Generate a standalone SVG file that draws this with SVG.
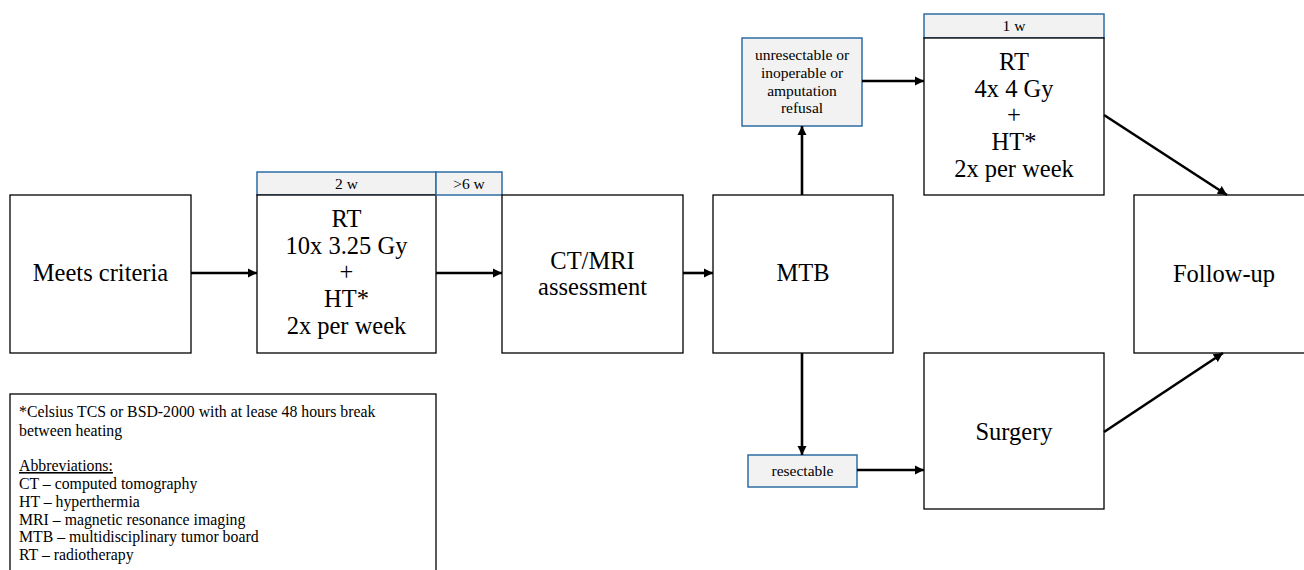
<svg xmlns="http://www.w3.org/2000/svg" width="1304" height="570" viewBox="0 0 1304 570">
<defs>
<style>
.box{fill:#ffffff;stroke:#000000;stroke-width:1.3}
.tag{fill:#f2f2f2;stroke:#2e6ca4;stroke-width:1.5}
.big{font-family:"Liberation Serif","DejaVu Serif",serif;font-size:24.5px;fill:#000;text-anchor:middle}
.sm{font-family:"Liberation Serif","DejaVu Serif",serif;font-size:15.5px;fill:#000;text-anchor:middle}
.leg{font-family:"Liberation Serif","DejaVu Serif",serif;font-size:15.8px;fill:#000}
.con{stroke:#000;stroke-width:2.6;fill:none;marker-end:url(#ah)}
</style>
<marker id="ah" viewBox="0 0 10 10" refX="10" refY="5" markerWidth="3.6" markerHeight="3.6" orient="auto" markerUnits="strokeWidth">
<path d="M0,0 L10,5 L0,10 z" fill="#000"/>
</marker>
</defs>
<rect width="1304" height="570" fill="#ffffff"/>

<g id="meets">
<rect class="box" x="10" y="195" width="181" height="158"/>
<text class="big" x="100.5" y="281">Meets criteria</text>
</g>

<g id="rt1">
<rect class="tag" x="257" y="172" width="179" height="23"/>
<text class="sm" x="346.5" y="189">2 w</text>
<rect class="box" x="257" y="195" width="179" height="158"/>
<text class="big" x="346.5" y="227">RT</text>
<text class="big" x="346.5" y="254">10x 3.25 Gy</text>
<text class="big" x="346.5" y="280">+</text>
<text class="big" x="346.5" y="307">HT*</text>
<text class="big" x="346.5" y="334">2x per week</text>
</g>

<g id="gap">
<rect class="tag" x="436" y="172" width="66" height="23"/>
<text class="sm" x="469" y="189">&gt;6 w</text>
</g>

<g id="ctmri">
<rect class="box" x="502" y="195" width="181" height="158"/>
<text class="big" x="592.5" y="269">CT/MRI</text>
<text class="big" x="592.5" y="295">assessment</text>
</g>

<g id="mtb">
<rect class="box" x="713" y="195" width="180" height="158"/>
<text class="big" x="803" y="281">MTB</text>
</g>

<g id="unres">
<rect class="tag" x="742" y="38" width="120" height="88"/>
<text class="sm" x="802" y="60">unresectable or</text>
<text class="sm" x="802" y="78">inoperable or</text>
<text class="sm" x="802" y="96">amputation</text>
<text class="sm" x="802" y="113">refusal</text>
</g>

<g id="rt2">
<rect class="tag" x="924" y="14" width="180" height="24"/>
<text class="sm" x="1014" y="31">1 w</text>
<rect class="box" x="924" y="38" width="180" height="157"/>
<text class="big" x="1014" y="70">RT</text>
<text class="big" x="1014" y="97">4x 4 Gy</text>
<text class="big" x="1014" y="123">+</text>
<text class="big" x="1014" y="150">HT*</text>
<text class="big" x="1014" y="177">2x per week</text>
</g>

<g id="followup">
<rect class="box" x="1134" y="195" width="180" height="158"/>
<text class="big" x="1224" y="282">Follow-up</text>
</g>

<g id="resect">
<rect class="tag" x="748" y="455" width="109" height="32"/>
<text class="sm" x="802.5" y="476">resectable</text>
</g>

<g id="surgery">
<rect class="box" x="924" y="353" width="180" height="156"/>
<text class="big" x="1014" y="440">Surgery</text>
</g>

<g id="legend">
<rect class="box" x="10" y="394" width="426" height="190"/>
<text class="leg" x="19" y="417">*Celsius TCS or BSD-2000 with at lease 48 hours break</text>
<text class="leg" x="19" y="436">between heating</text>
<text class="leg" x="19" y="471" text-decoration="underline">Abbreviations:</text>
<text class="leg" x="19" y="489">CT – computed tomography</text>
<text class="leg" x="19" y="507">HT – hyperthermia</text>
<text class="leg" x="19" y="525">MRI – magnetic resonance imaging</text>
<text class="leg" x="19" y="542">MTB – multidisciplinary tumor board</text>
<text class="leg" x="19" y="560">RT – radiotherapy</text>
</g>

<g id="connectors">
<line class="con" x1="191" y1="273" x2="257" y2="273"/>
<line class="con" x1="436" y1="273" x2="502" y2="273"/>
<line class="con" x1="683" y1="273" x2="713" y2="273"/>
<line class="con" x1="802" y1="195" x2="802" y2="126"/>
<line class="con" x1="802" y1="353" x2="802" y2="455"/>
<line class="con" x1="862" y1="81" x2="924" y2="81"/>
<line class="con" x1="857" y1="470" x2="924" y2="470"/>
<line class="con" x1="1104" y1="115" x2="1227" y2="195"/>
<line class="con" x1="1104" y1="432" x2="1223" y2="353"/>
</g>
</svg>
